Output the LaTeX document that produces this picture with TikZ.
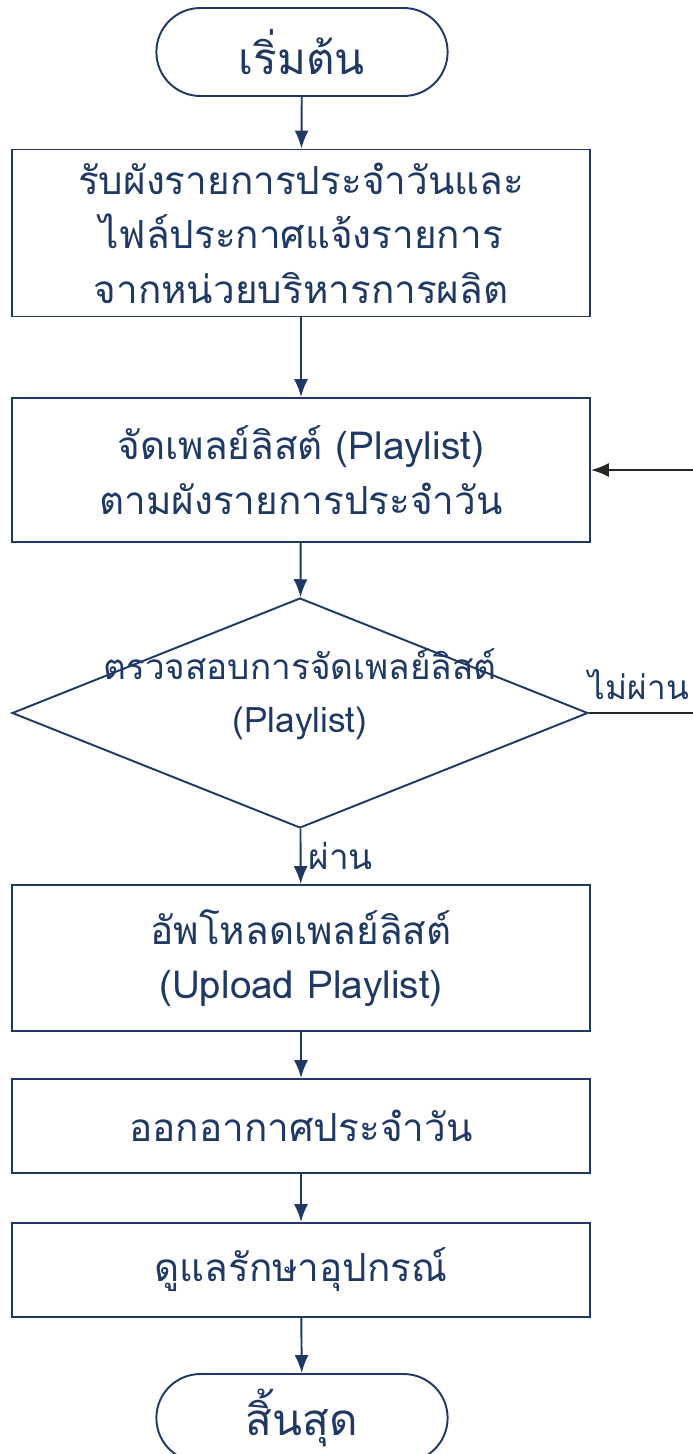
\documentclass[tikz,border=0pt]{standalone}
\usepackage{fontspec}
\newfontfamily\thaifont[Script=Thai]{Loma}
\usetikzlibrary{shapes,arrows.meta,positioning,calc}
\definecolor{navy}{HTML}{1F3864}
\definecolor{loopgray}{HTML}{262626}

\begin{document}
\begin{tikzpicture}[x=0.02cm,y=-0.02cm]
  % Estilos
  \tikzstyle{term}=[rounded rectangle, draw=navy, line width=1.1pt, minimum width=6.06cm, minimum height=1.76cm, text=navy, font=\thaifont\fontsize{25}{31}\selectfont]
  \tikzstyle{proc}=[rectangle, draw=navy, line width=1.1pt, minimum width=11.56cm, text=navy, align=center, font=\thaifont\fontsize{22}{31}\selectfont]
  \tikzstyle{check}=[diamond, draw=navy, line width=1.1pt, minimum width=11.52cm, minimum height=4.6cm, inner sep=0pt]
  \tikzstyle{lbl}=[text=navy, align=center, font=\thaifont\fontsize{20}{30}\selectfont]
  \tikzstyle{conn}=[-{Latex[length=0.36cm, width=0.28cm]}, navy, line width=1.1pt]
  \tikzstyle{back}=[-{Latex[length=0.36cm, width=0.28cm]}, loopgray, line width=1.1pt]

  \useasboundingbox (0,0) rectangle (693,1454);

  % Inicio
  \node[term] (start) at (302,52) {เริ่มต้น};

  % Procesos
  \node[proc, minimum height=3.34cm] (recv) at (301,233) {รับผังรายการประจำวันและ\\ไฟล์ประกาศแจ้งรายการ\\จากหน่วยบริหารการผลิต};
  \node[proc, minimum height=2.88cm] (plist) at (301,470) {จัดเพลย์ลิสต์ (Playlist)\\ตามผังรายการประจำวัน};

  % Decision
  \node[check] (chk) at (300,713) {};
  \node[lbl] (chktxt) at (300,694) {ตรวจสอบการจัดเพลย์ลิสต์\\(Playlist)};

  \node[proc, minimum height=2.92cm] (upload) at (301,958) {อัพโหลดเพลย์ลิสต์\\(Upload Playlist)};
  \node[proc, minimum height=1.88cm] (onair) at (301,1126) {ออกอากาศประจำวัน};
  \node[proc, minimum height=1.88cm] (care) at (301,1270) {ดูแลรักษาอุปกรณ์};

  % Fin
  \node[term] (stop) at (302,1418) {สิ้นสุด};

  % Conexiones
  \draw[conn] (start) -- (recv);
  \draw[conn] (recv) -- (plist);
  \draw[conn] (plist) -- (chk);
  \draw[conn] (chk) -- node[lbl, right, inner sep=4pt] (pass) {ผ่าน} (upload);
  \draw[conn] (upload) -- (onair);
  \draw[conn] (onair) -- (care);
  \draw[conn] (care) -- (stop);

  % Retorno
  \coordinate (lp) at (720,713);
  \draw[back] (chk.east) -- (lp) |- (plist.east);
  \node[lbl, anchor=south east, inner sep=1pt, font=\thaifont\fontsize{19}{24}\selectfont] (fail) at (691,702) {ไม่ผ่าน};
\end{tikzpicture}
\end{document}
